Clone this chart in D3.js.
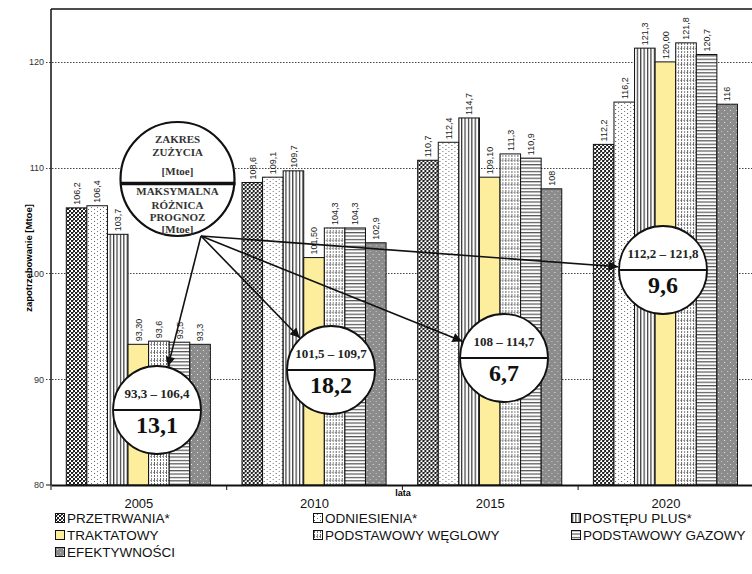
<!DOCTYPE html>
<html>
<head>
<meta charset="utf-8">
<script src="https://cdn.jsdelivr.net/npm/d3@7"></script>
<style>
  html, body { margin: 0; padding: 0; background: #fff; }
  svg { display: block; }
</style>
</head>
<body>
<div id="chart"></div>
<script>
// Zapotrzebowanie na energię pierwotną wg scenariuszy [Mtoe]
const years = ["2005", "2010", "2015", "2020"];
const scenarios = ["PRZETRWANIA*", "ODNIESIENIA*", "POSTĘPU PLUS*", "TRAKTATOWY",
                   "PODSTAWOWY WĘGLOWY", "PODSTAWOWY GAZOWY", "EFEKTYWNOŚCI"];
const przetrwania = [106.2, 108.6, 110.7, 112.2];
const odniesienia = [106.4, 109.1, 112.4, 116.2];
const postepuPlus = [103.7, 109.7, 114.7, 121.3];
const traktatowy = [93.30, 101.50, 109.10, 120.00];
const podstWeglowy = [93.6, 104.3, 111.3, 121.8];
const podstGazowy = [93.5, 104.3, 110.9, 120.7];
const efektywnosci = [93.3, 102.9, 108, 116];
// etykiety wartości (tak jak podane w tabeli źródłowej)
const valueLabels = [
  ["106,2", "108,6", "110,7", "112,2"],
  ["106,4", "109,1", "112,4", "116,2"],
  ["103,7", "109,7", "114,7", "121,3"],
  ["93,30", "101,50", "109,10", "120,00"],
  ["93,6", "104,3", "111,3", "121,8"],
  ["93,5", "104,3", "110,9", "120,7"],
  ["93,3", "102,9", "108", "116"]
];
const yTicks = [80, 90, 100, 110, 120];
// zakres prognoz i maksymalna różnica w każdym roku
const rangeLabels = ["93,3 – 106,4", "101,5 – 109,7", "108 – 114,7", "112,2 – 121,8"];
const maxDiff = ["13,1", "18,2", "6,7", "9,6"];

const series = [przetrwania, odniesienia, postepuPlus, traktatowy, podstWeglowy, podstGazowy, efektywnosci];

const W = 752, H = 574;
const sans = "Arial, 'Liberation Sans', sans-serif";
const serif = "'Times New Roman', 'Liberation Serif', serif";
const svg = d3.select("#chart").append("svg").attr("width", W).attr("height", H);
const defs = svg.append("defs");

// --- wzory wypełnień ---
function pat(id, w, h, bg) {
  const p = defs.append("pattern").attr("id", id).attr("patternUnits", "userSpaceOnUse")
    .attr("width", w).attr("height", h);
  p.append("rect").attr("width", w).attr("height", h).attr("fill", bg);
  return p;
}
// PRZETRWANIA – gęsta kratka
{
  const p = pat("p0", 4, 4, "#fff");
  p.append("rect").attr("x", 0).attr("y", 0).attr("width", 2).attr("height", 2).attr("fill", "#222");
  p.append("rect").attr("x", 2).attr("y", 2).attr("width", 2).attr("height", 2).attr("fill", "#222");
  p.append("rect").attr("x", 2).attr("y", 0).attr("width", 1).attr("height", 1).attr("fill", "#777");
}
// ODNIESIENIA – rzadkie kropki
{
  const p = pat("p1", 6, 4, "#fff");
  p.append("rect").attr("x", 1).attr("y", 1).attr("width", 1).attr("height", 1).attr("fill", "#555");
  p.append("rect").attr("x", 4).attr("y", 3).attr("width", 1).attr("height", 1).attr("fill", "#777");
}
// POSTĘPU PLUS – pionowe linie
{
  const p = pat("p2", 3.4, 4, "#fff");
  p.append("rect").attr("x", 1).attr("y", 0).attr("width", 1).attr("height", 4).attr("fill", "#111");
}
// PODSTAWOWY WĘGLOWY – kreskowana kratka
{
  const p = pat("p4", 6, 8, "#fff");
  p.append("line").attr("x1", 1.5).attr("x2", 1.5).attr("y1", 0).attr("y2", 8)
    .attr("stroke", "#666").attr("stroke-dasharray", "2,1");
  p.append("line").attr("x1", 4.5).attr("x2", 4.5).attr("y1", 0).attr("y2", 8)
    .attr("stroke", "#888").attr("stroke-dasharray", "2,1");
  p.append("line").attr("x1", 0).attr("x2", 6).attr("y1", 0.5).attr("y2", 0.5)
    .attr("stroke", "#999").attr("stroke-dasharray", "1,2");
}
// PODSTAWOWY GAZOWY – poziome linie
{
  const p = pat("p5", 4, 3.4, "#fff");
  p.append("rect").attr("x", 0).attr("y", 1).attr("width", 4).attr("height", 1).attr("fill", "#333");
}
// EFEKTYWNOŚCI – szary z białymi kropkami
{
  const p = pat("p6", 6, 6, "#8c8c8c");
  p.append("rect").attr("x", 2).attr("y", 2).attr("width", 1).attr("height", 1).attr("fill", "#e8e8e8");
  p.append("rect").attr("x", 5).attr("y", 5).attr("width", 1).attr("height", 1).attr("fill", "#c8c8c8");
}
const fills = ["url(#p0)", "url(#p1)", "url(#p2)", "#FDEE9E", "url(#p4)", "url(#p5)", "url(#p6)"];

// --- skale ---
const plotLeft = 51, plotTop = 9, plotBottom = 485;
const x0 = d3.scaleBand().domain(years).range([plotLeft, plotLeft + 4 * 175.7]);
const x1 = d3.scaleBand().domain(d3.range(7))
  .range([x0.bandwidth() * 0.087, x0.bandwidth() * 0.907]);
const y = d3.scaleLinear().domain([80, 125]).range([plotBottom, plotTop]);

// --- siatka ---
svg.append("g").selectAll("line").data(yTicks.slice(1)).join("line")
  .attr("x1", plotLeft - 5).attr("x2", W).attr("y1", d => Math.round(y(d)) + 0.5).attr("y2", d => Math.round(y(d)) + 0.5)
  .attr("stroke", "#444").attr("stroke-width", 1).attr("stroke-dasharray", "1.5,1.5");

// --- słupki ---
const groups = svg.append("g").selectAll("g").data(years).join("g")
  .attr("transform", d => `translate(${x0(d)},0)`);
groups.each(function (yr, yi) {
  const g = d3.select(this);
  series.forEach((s, si) => {
    const bx = x1(si), bw = x1.bandwidth();
    g.append("rect")
      .attr("x", bx).attr("y", y(s[yi]))
      .attr("width", bw).attr("height", y(80) - y(s[yi]))
      .attr("fill", fills[si]).attr("stroke", "#111").attr("stroke-width", 1);
    g.append("text")
      .attr("transform", `translate(${bx + bw / 2 + 3.3},${y(s[yi]) - 3}) rotate(-90)`)
      .attr("font-family", sans).attr("font-size", 9)
      .attr("fill", "#222").text(valueLabels[si][yi]);
  });
});

// --- osie ---
svg.append("line").attr("x1", plotLeft).attr("x2", W).attr("y1", plotTop).attr("y2", plotTop)
  .attr("stroke", "#111").attr("stroke-width", 1.5);
svg.append("line").attr("x1", plotLeft).attr("x2", plotLeft).attr("y1", plotTop).attr("y2", plotBottom)
  .attr("stroke", "#111").attr("stroke-width", 1.5);

const yAxis = d3.axisLeft(y).tickValues(yTicks).tickSize(0).tickPadding(7).tickFormat(d3.format("d"));
const ya = svg.append("g").attr("transform", `translate(${plotLeft},0)`).call(yAxis);
ya.select(".domain").remove();
ya.selectAll("text").attr("font-family", sans).attr("font-size", 9).attr("fill", "#333");
svg.append("line").attr("x1", plotLeft - 5).attr("x2", plotLeft).attr("y1", y(80)).attr("y2", y(80))
  .attr("stroke", "#111");

const xAxis = d3.axisBottom(x0).tickSize(0).tickPadding(14);
const xa = svg.append("g").attr("transform", `translate(0,${plotBottom})`).call(xAxis);
xa.select(".domain").attr("stroke", "#111").attr("stroke-width", 2);
xa.selectAll("text").attr("font-family", sans).attr("font-size", 13).attr("fill", "#111");
// znaczniki między latami
svg.append("g").selectAll("line").data(d3.range(5)).join("line")
  .attr("x1", i => plotLeft + i * x0.step()).attr("x2", i => plotLeft + i * x0.step())
  .attr("y1", plotBottom).attr("y2", plotBottom + 5).attr("stroke", "#111").attr("stroke-width", 1);

svg.append("text").attr("x", 403).attr("y", 496).attr("text-anchor", "middle")
  .attr("font-family", sans).attr("font-size", 9).attr("font-weight", "bold")
  .text("lata");
svg.append("text").attr("transform", `translate(32,258) rotate(-90)`)
  .attr("text-anchor", "middle")
  .attr("font-family", sans).attr("font-size", 9.5).attr("font-weight", "bold")
  .text("zapotrzebowanie [Mtoe]");

// --- strzałki ---
defs.append("marker").attr("id", "arrow").attr("viewBox", "0 0 10 10").attr("refX", 10).attr("refY", 5)
  .attr("markerWidth", 8).attr("markerHeight", 6).attr("markerUnits", "strokeWidth").attr("orient", "auto")
  .append("path").attr("d", "M0,0 L10,5 L0,10 z").attr("fill", "#111");

const origin = [201, 236];
const bubbleCenters = [[157, 410], [331, 370], [504, 358], [663, 270]];
const bubbleR = 44;
bubbleCenters.forEach(c => {
  const dx = c[0] - origin[0], dy = c[1] - origin[1];
  const len = Math.hypot(dx, dy);
  const ex = c[0] - dx / len * (bubbleR + 1), ey = c[1] - dy / len * (bubbleR + 1);
  svg.append("line").attr("x1", origin[0]).attr("y1", origin[1]).attr("x2", ex).attr("y2", ey)
    .attr("stroke", "#111").attr("stroke-width", 1.6).attr("marker-end", "url(#arrow)");
});

// --- dymek z opisem ---
const lc = [177.5, 179], lr = 57;
svg.append("circle").attr("cx", lc[0]).attr("cy", lc[1]).attr("r", lr)
  .attr("fill", "#fff").attr("stroke", "#111").attr("stroke-width", 2.2);
svg.append("line").attr("x1", lc[0] - lr).attr("x2", lc[0] + lr + 1).attr("y1", 183.5).attr("y2", 183.5)
  .attr("stroke", "#111").attr("stroke-width", 3.5);
const legendLines = [["ZAKRES", 143], ["ZUŻYCIA", 156], ["[Mtoe]", 175], ["MAKSYMALNA", 195],
                     ["RÓŻNICA", 209], ["PROGNOZ", 221], ["[Mtoe]", 233]];
svg.append("g").selectAll("text").data(legendLines).join("text")
  .attr("x", lc[0]).attr("y", d => d[1]).attr("text-anchor", "middle")
  .attr("font-family", serif).attr("font-weight", "bold").attr("font-size", 11).attr("fill", "#333")
  .text(d => d[0]);

// --- dymki z zakresami ---
bubbleCenters.forEach((c, i) => {
  const g = svg.append("g");
  g.append("circle").attr("cx", c[0]).attr("cy", c[1]).attr("r", bubbleR)
    .attr("fill", "#fff").attr("stroke", "#111").attr("stroke-width", 1.8);
  g.append("line").attr("x1", c[0] - bubbleR).attr("x2", c[0] + bubbleR).attr("y1", c[1]).attr("y2", c[1])
    .attr("stroke", "#111").attr("stroke-width", 1.8);
  g.append("text").attr("x", c[0]).attr("y", c[1] - 12).attr("text-anchor", "middle")
    .attr("font-family", serif).attr("font-weight", "bold").attr("font-size", 13).attr("fill", "#222")
    .text(rangeLabels[i]);
  g.append("text").attr("x", c[0]).attr("y", c[1] + 23).attr("text-anchor", "middle")
    .attr("font-family", serif).attr("font-weight", "bold").attr("font-size", 24).attr("fill", "#111")
    .text(maxDiff[i]);
});

// --- legenda ---
const legX = [55, 313, 571], legY = [519, 536, 553];
const leg = svg.append("g").selectAll("g").data(scenarios).join("g")
  .attr("transform", (d, i) => `translate(${legX[i % 3]},${legY[Math.floor(i / 3)]})`);
leg.append("rect").attr("x", 0.5).attr("y", -5.5).attr("width", 9).attr("height", 9)
  .attr("fill", (d, i) => fills[i]).attr("stroke", "#111").attr("stroke-width", 1);
leg.append("text").attr("x", 12).attr("y", 4)
  .attr("font-family", sans).attr("font-size", 13.5).attr("fill", "#111")
  .text(d => d);
</script>
</body>
</html>
